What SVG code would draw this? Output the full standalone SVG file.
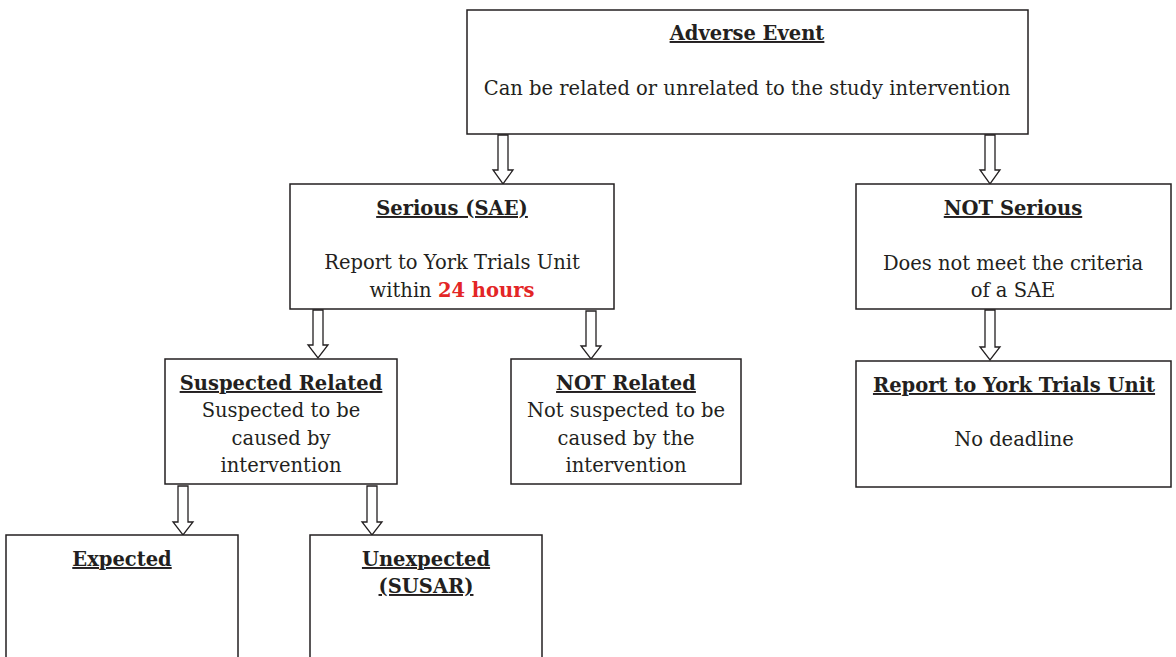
<svg xmlns="http://www.w3.org/2000/svg" width="1176" height="657" viewBox="0 0 1176 657">
<style>
.box{fill:#fff;stroke:#231f20;stroke-width:1.5}
.t{font-family:"DejaVu Serif","Liberation Serif",serif;font-size:19.5px;fill:#231f20;text-anchor:middle}
.b{font-weight:bold;text-decoration:underline}
.red{fill:#e32526;font-weight:bold}
.arr{fill:#fff;stroke:#231f20;stroke-width:1.3}
</style>
<rect width="1176" height="657" fill="#fff"/>
<g id="connectors">
<path class="arr" d="M498,135 V170 H493 L503,184 L513,170 H508 V135 Z"/>
<path class="arr" d="M985,135 V170 H980 L990,184 L1000,170 H995 V135 Z"/>
<path class="arr" d="M313,310 V345 H308 L318,358 L328,345 H323 V310 Z"/>
<path class="arr" d="M586,311 V346 H581 L591,359 L601,346 H596 V311 Z"/>
<path class="arr" d="M985,310 V347 H980 L990,360 L1000,347 H995 V310 Z"/>
<path class="arr" d="M178,486 V522 H173 L183,535 L193,522 H188 V486 Z"/>
<path class="arr" d="M367,486 V522 H362 L372,535 L382,522 H377 V486 Z"/>
</g>
<g id="adverse-event">
<rect class="box" x="467" y="10" width="561" height="124"/>
<text class="t b" x="747" y="40">Adverse Event</text>
<text class="t" x="747" y="95">Can be related or unrelated to the study intervention</text>
</g>
<g id="serious">
<rect class="box" x="290" y="184" width="324" height="125"/>
<text class="t b" x="452" y="215">Serious (SAE)</text>
<text class="t" x="452" y="269">Report to York Trials Unit</text>
<text class="t" x="452" y="297">within <tspan class="red">24 hours</tspan></text>
</g>
<g id="not-serious">
<rect class="box" x="856" y="184" width="315" height="125"/>
<text class="t b" x="1013" y="215">NOT Serious</text>
<text class="t" x="1013" y="270">Does not meet the criteria</text>
<text class="t" x="1013" y="297">of a SAE</text>
</g>
<g id="suspected-related">
<rect class="box" x="165" y="359" width="232" height="125"/>
<text class="t b" x="281" y="390">Suspected Related</text>
<text class="t" x="281" y="417">Suspected to be</text>
<text class="t" x="281" y="445">caused by</text>
<text class="t" x="281" y="472">intervention</text>
</g>
<g id="not-related">
<rect class="box" x="511" y="359" width="230" height="125"/>
<text class="t b" x="626" y="390">NOT Related</text>
<text class="t" x="626" y="417">Not suspected to be</text>
<text class="t" x="626" y="445">caused by the</text>
<text class="t" x="626" y="472">intervention</text>
</g>
<g id="report-ytu">
<rect class="box" x="856" y="361" width="315" height="126"/>
<text class="t b" x="1014" y="392">Report to York Trials Unit</text>
<text class="t" x="1014" y="446">No deadline</text>
</g>
<g id="expected">
<rect class="box" x="6" y="535" width="232" height="135"/>
<text class="t b" x="122" y="566">Expected</text>
</g>
<g id="unexpected">
<rect class="box" x="310" y="535" width="232" height="135"/>
<text class="t b" x="426" y="566">Unexpected</text>
<text class="t b" x="426" y="593">(SUSAR)</text>
</g>
</svg>
